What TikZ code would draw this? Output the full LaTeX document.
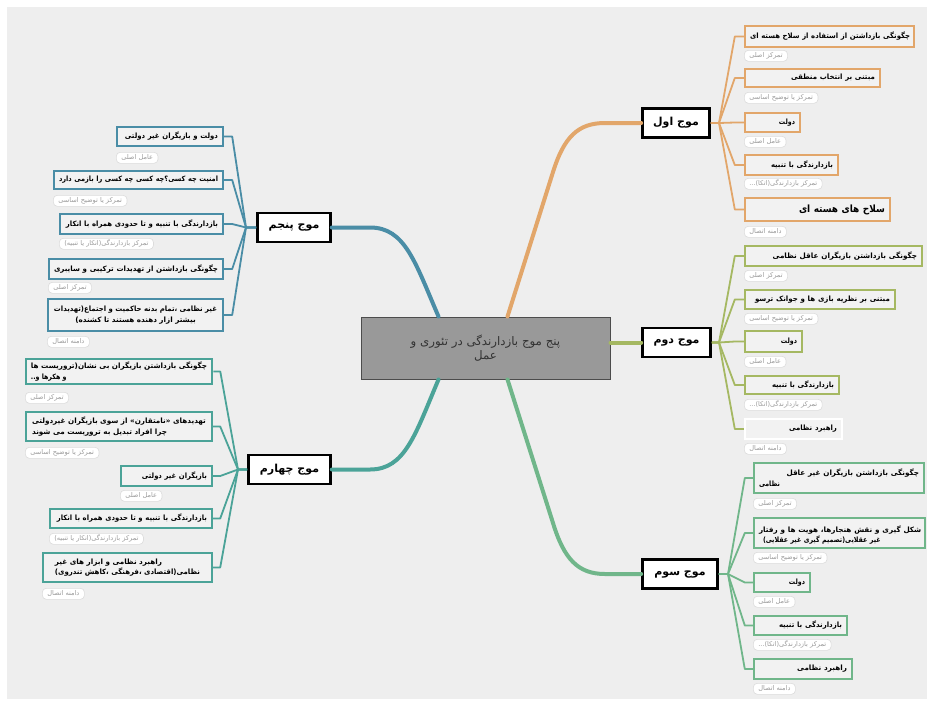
\documentclass[tikz,border=0pt]{standalone}
\usepackage{fontspec}
\usepackage{graphicx}
\newfontfamily\arabicfont[Script=Arabic]{DejaVu Sans}
\newfontfamily\arabiccond[Script=Arabic,FakeStretch=0.86]{DejaVu Sans}
\TeXXeTstate=1
\newcommand\fa[1]{{\arabicfont #1}}
\newcommand\fc[1]{{\arabiccond #1}}
\newsavebox\fwbox
\newcommand\fw[2]{\sbox\fwbox{\arabiccond #2}%
  \ifdim\wd\fwbox>#1pt\relax\resizebox{#1pt}{\height}{\usebox\fwbox}%
  \else\ifdim1.15\wd\fwbox<#1pt\relax\resizebox{1.15\wd\fwbox}{\height}{\usebox\fwbox}%
  \else\resizebox{#1pt}{\height}{\usebox\fwbox}\fi\fi}
\definecolor{bgc}{HTML}{EEEEEE}
\definecolor{boxfill}{HTML}{F2F2F2}
\definecolor{corange}{HTML}{E2A66A}
\definecolor{colive}{HTML}{A5B862}
\definecolor{cgreen}{HTML}{70B68A}
\definecolor{cteal}{HTML}{4BA398}
\definecolor{cblue}{HTML}{4A8DA6}
\definecolor{tagtext}{HTML}{9A9A9A}
\definecolor{tagborder}{HTML}{DCDCDC}
\begin{document}
\begin{tikzpicture}[x=1pt,y=-1pt,
  ctrbox/.style={draw=black!70, line width=1pt, fill=black!40, text=black!80, align=center,
    font=\fontsize{11.8}{14}\selectfont, inner sep=0pt},
  mt/.style={draw=black, line width=2.6pt, fill=white, inner sep=0pt, minimum height=29,
    font=\bfseries\fontsize{11}{12}\selectfont},
  sb/.style={draw=#1, line width=2.4pt, fill=boxfill, inner xsep=5pt, inner ysep=1pt,
    align=right, font=\bfseries\fontsize{7.3}{10.5}\selectfont},
  tag/.style={draw=tagborder, fill=white, line width=0.6pt, rounded corners=4pt, text=tagtext,
    inner xsep=5pt, inner ysep=0pt, minimum height=11, anchor=north west,
    font=\fontsize{6.6}{7}\selectfont},
  mc/.style={draw=#1, line width=4pt, line cap=round},
  sc/.style={draw=#1, line width=1.8pt, line join=round}]
\useasboundingbox (0,0) rectangle (934,705);
\fill[white] (0,0) rectangle (934,705);
\fill[bgc] (7,7) rectangle (927,699);

% central and main topics
\node[ctrbox, minimum width=249, minimum height=62] (ctr) at (485.5,348)
  {\fa{\beginR پنج موج بازدارندگی در تئوری و\endR}\\\fa{\beginR عمل\endR}};
\node[mt, minimum width=67] (m1) at (676,123) {\fa{\beginR موج اول\endR}};
\node[mt, minimum width=68] (m2) at (676.5,342.5) {\fa{\beginR موج دوم\endR}};
\node[mt, minimum width=75] (m3) at (680,574) {\fa{\beginR موج سوم\endR}};
\node[mt, minimum width=73] (m5) at (294,227.5) {\fa{\beginR موج پنجم\endR}};
\node[mt, minimum width=82] (m4) at (289.5,469.5) {\fa{\beginR موج چهارم\endR}};

% main connectors
\draw[mc=corange] ([xshift=22]ctr.north) -- (553,172) .. controls (564,137) and (578,123) .. (605,123) -- (m1.west);
\draw[mc=colive] (ctr.east |- m2.west) -- (m2.west);
\draw[mc=cgreen] ([xshift=22]ctr.south) -- (553,523) .. controls (564,559) and (578,574) .. (605,574) -- (m3.west);
\draw[mc=cblue] ([xshift=-47]ctr.north) .. controls (415,262) and (405,227.5) .. (370,227.5) -- (m5.east);
\draw[mc=cteal] ([xshift=-47]ctr.south) .. controls (415,435) and (405,469.5) .. (370,469.5) -- (m4.east);

% ---------- wave 1 ----------
\node[sb=corange, minimum width=169, minimum height=21, text width=159] (o1) at (829.5,36.5) {\fw{160}{\beginR چگونگی بازداشتن از استفاده از سلاح هسته ای\endR}};
\node[sb=corange, minimum width=135, minimum height=18, text width=125] (o2) at (812.5,78) {\fw{84}{\beginR مبتنی بر انتخاب منطقی\endR}};
\node[sb=corange, minimum width=55, minimum height=19, text width=45] (o3) at (772.5,122.5) {\fc{\beginR دولت\endR}};
\node[sb=corange, minimum width=93, minimum height=20, text width=83] (o4) at (791.5,165) {\fw{62}{\beginR بازدارندگی با تنبیه\endR}};
\node[sb=corange, minimum width=145, minimum height=23, text width=135, font=\bfseries\fontsize{10}{11}\selectfont] (o5) at (817.5,209.5) {\fw{86}{\beginR سلاح های هسته ای\endR}};
\node[tag] (o1t) at (744,50) {\fa{\beginR تمرکز اصلی\endR}};
\node[tag] (o2t) at (744,92) {\fa{\beginR تمرکز یا توضیح اساسی\endR}};
\node[tag] (o3t) at (744,136) {\fa{\beginR عامل اصلی\endR}};
\node[tag] (o4t) at (744,178) {\fa{\beginR تمرکز بازدارندگی(اتکا)...\endR}};
\node[tag] (o5t) at (744,226) {\fa{\beginR دامنه اتصال\endR}};
\coordinate (h1) at (719,123);
\foreach \n in {o1,o2,o3,o4,o5}
  \draw[sc=corange] (m1.east) -- (h1) -- ([xshift=-9]\n.west) -- (\n.west);

% ---------- wave 2 ----------
\node[sb=colive, minimum width=177, minimum height=20, text width=167] (d1) at (833.5,256) {\fw{169}{\beginR چگونگی بازداشتن بازیگران عاقل نظامی\endR}};
\node[sb=colive, minimum width=150, minimum height=19, text width=140] (d2) at (820,299.5) {\fw{135}{\beginR مبتنی بر نظریه بازی ها و جوانک ترسو\endR}};
\node[sb=colive, minimum width=57, minimum height=21, text width=47] (d3) at (773.5,341.5) {\fc{\beginR دولت\endR}};
\node[sb=colive, minimum width=94, minimum height=18, text width=84] (d4) at (792,385) {\fw{62}{\beginR بازدارندگی با تنبیه\endR}};
\node[sb=white, minimum width=97, minimum height=20, text width=87] (d5) at (793.5,429) {\fw{48}{\beginR راهبرد نظامی\endR}};
\node[tag] (d1t) at (744,270) {\fa{\beginR تمرکز اصلی\endR}};
\node[tag] (d2t) at (744,313) {\fa{\beginR تمرکز یا توضیح اساسی\endR}};
\node[tag] (d3t) at (744,356) {\fa{\beginR عامل اصلی\endR}};
\node[tag] (d4t) at (744,399) {\fa{\beginR تمرکز بازدارندگی(اتکا)...\endR}};
\node[tag] (d5t) at (744,443) {\fa{\beginR دامنه اتصال\endR}};
\coordinate (h2) at (719,342.5);
\foreach \n in {d1,d2,d3,d4,d5}
  \draw[sc=colive] (m2.east) -- (h2) -- ([xshift=-9]\n.west) -- (\n.west);

% ---------- wave 3 ----------
\node[sb=cgreen, minimum width=170, minimum height=30, text width=160, align=left] (s1) at (839,478) {\hfill\fw{166}{\beginR چگونگی بازداشتن بازیگران غیر عاقل\endR}\\\fc{\beginR نظامی\endR}};
\node[sb=cgreen, minimum width=171, minimum height=30, text width=161, align=left] (s2) at (839.5,533) {\hfill\fw{166}{\beginR شکل گیری و نقش هنجارها، هویت ها و رفتار\endR}\\\hspace*{4pt}\fc{\beginR غیر عقلایی(تصمیم گیری غیر عقلایی)\endR}};
\node[sb=cgreen, minimum width=56, minimum height=19, text width=46] (s3) at (782,582.5) {\fc{\beginR دولت\endR}};
\node[sb=cgreen, minimum width=93, minimum height=19, text width=83] (s4) at (800.5,625.5) {\fw{63}{\beginR بازدارندگی با تنبیه\endR}};
\node[sb=cgreen, minimum width=98, minimum height=20, text width=88] (s5) at (803,669) {\fw{50}{\beginR راهبرد نظامی\endR}};
\node[tag] (s1t) at (753,498) {\fa{\beginR تمرکز اصلی\endR}};
\node[tag] (s2t) at (753,552) {\fa{\beginR تمرکز یا توضیح اساسی\endR}};
\node[tag] (s3t) at (753,596) {\fa{\beginR عامل اصلی\endR}};
\node[tag] (s4t) at (753,639) {\fa{\beginR تمرکز بازدارندگی(اتکا)...\endR}};
\node[tag] (s5t) at (753,683) {\fa{\beginR دامنه اتصال\endR}};
\coordinate (h3) at (728,574);
\foreach \n in {s1,s2,s3,s4,s5}
  \draw[sc=cgreen] (m3.east) -- (h3) -- ([xshift=-8]\n.west) -- (\n.west);

% ---------- wave 5 ----------
\node[sb=cblue, minimum width=106, minimum height=19, text width=96] (p1) at (170,136.5) {\fw{93}{\beginR دولت و بازیگران غیر دولتی\endR}};
\node[sb=cblue, minimum width=169, minimum height=18, text width=159] (p2) at (138.5,180) {\fw{159}{\beginR امنیت چه کسی؟چه کسی چه کسی را بازمی دارد\endR}};
\node[sb=cblue, minimum width=163, minimum height=20, text width=153] (p3) at (141.5,224) {\fw{152}{\beginR بازدارندگی با تنبیه و تا حدودی همراه با انکار\endR}};
\node[sb=cblue, minimum width=174, minimum height=20, text width=164] (p4) at (136,269) {\fw{164}{\beginR چگونگی بازداشتن از تهدیدات ترکیبی و سایبری\endR}};
\node[sb=cblue, minimum width=175, minimum height=32, align=center] (p5) at (135.5,315) {\fw{163}{\beginR غیر نظامی ،تمام بدنه حاکمیت و اجتماع(تهدیدات\endR}\\\fw{127}{\beginR بیشتر ازار دهنده هستند تا کشنده)\endR}};
\node[tag] (p1t) at (116,152) {\fa{\beginR عامل اصلی\endR}};
\node[tag] (p2t) at (53,195) {\fa{\beginR تمرکز یا توضیح اساسی\endR}};
\node[tag] (p3t) at (59,238) {\fa{\beginR تمرکز بازدارندگی(انکار یا تنبیه)\endR}};
\node[tag] (p4t) at (48,282) {\fa{\beginR تمرکز اصلی\endR}};
\node[tag] (p5t) at (47,336) {\fa{\beginR دامنه اتصال\endR}};
\coordinate (h5) at (246,227.5);
\foreach \n in {p1,p2,p3,p4,p5}
  \draw[sc=cblue] (m5.west) -- (h5) -- ([xshift=8]\n.east) -- (\n.east);

% ---------- wave 4 ----------
\node[sb=cteal, minimum width=186, minimum height=25, align=left] (c1) at (119,371.5) {\fw{178}{\beginR چگونگی بازداشتن بازیگران بی نشان(تروریست ها\endR}\\\fc{\beginR و هکرها و..\endR}};
\node[sb=cteal, minimum width=186, minimum height=29, align=left] (c2) at (119,426.5) {\fw{178}{\beginR تهدیدهای «نامتقارن» از سوی بازیگران غیردولتی\endR}\\\fw{140}{\beginR چرا افراد تبدیل به تروریست می شوند\endR}};
\node[sb=cteal, minimum width=91, minimum height=20, text width=81] (c3) at (166.5,476) {\fw{65}{\beginR بازیگران غیر دولتی\endR}};
\node[sb=cteal, minimum width=162, minimum height=19, text width=152] (c4) at (131,518.5) {\fw{150}{\beginR بازدارندگی با تنبیه و تا حدودی همراه با انکار\endR}};
\node[sb=cteal, minimum width=169, minimum height=29, align=left] (c5) at (127.5,567.5) {\fw{107}{\beginR راهبرد نظامی و ابزار های غیر\endR}\\\fw{145}{\beginR نظامی(اقتصادی ،فرهنگی ،کاهش تندروی)\endR}};
\node[tag] (c1t) at (25,392) {\fa{\beginR تمرکز اصلی\endR}};
\node[tag] (c2t) at (25,447) {\fa{\beginR تمرکز یا توضیح اساسی\endR}};
\node[tag] (c3t) at (120,490) {\fa{\beginR عامل اصلی\endR}};
\node[tag] (c4t) at (49,533) {\fa{\beginR تمرکز بازدارندگی(انکار یا تنبیه)\endR}};
\node[tag] (c5t) at (42,588) {\fa{\beginR دامنه اتصال\endR}};
\coordinate (h4) at (238,469.5);
\foreach \n in {c1,c2,c3,c4,c5}
  \draw[sc=cteal] (m4.west) -- (h4) -- ([xshift=7]\n.east) -- (\n.east);
\end{tikzpicture}
\end{document}
